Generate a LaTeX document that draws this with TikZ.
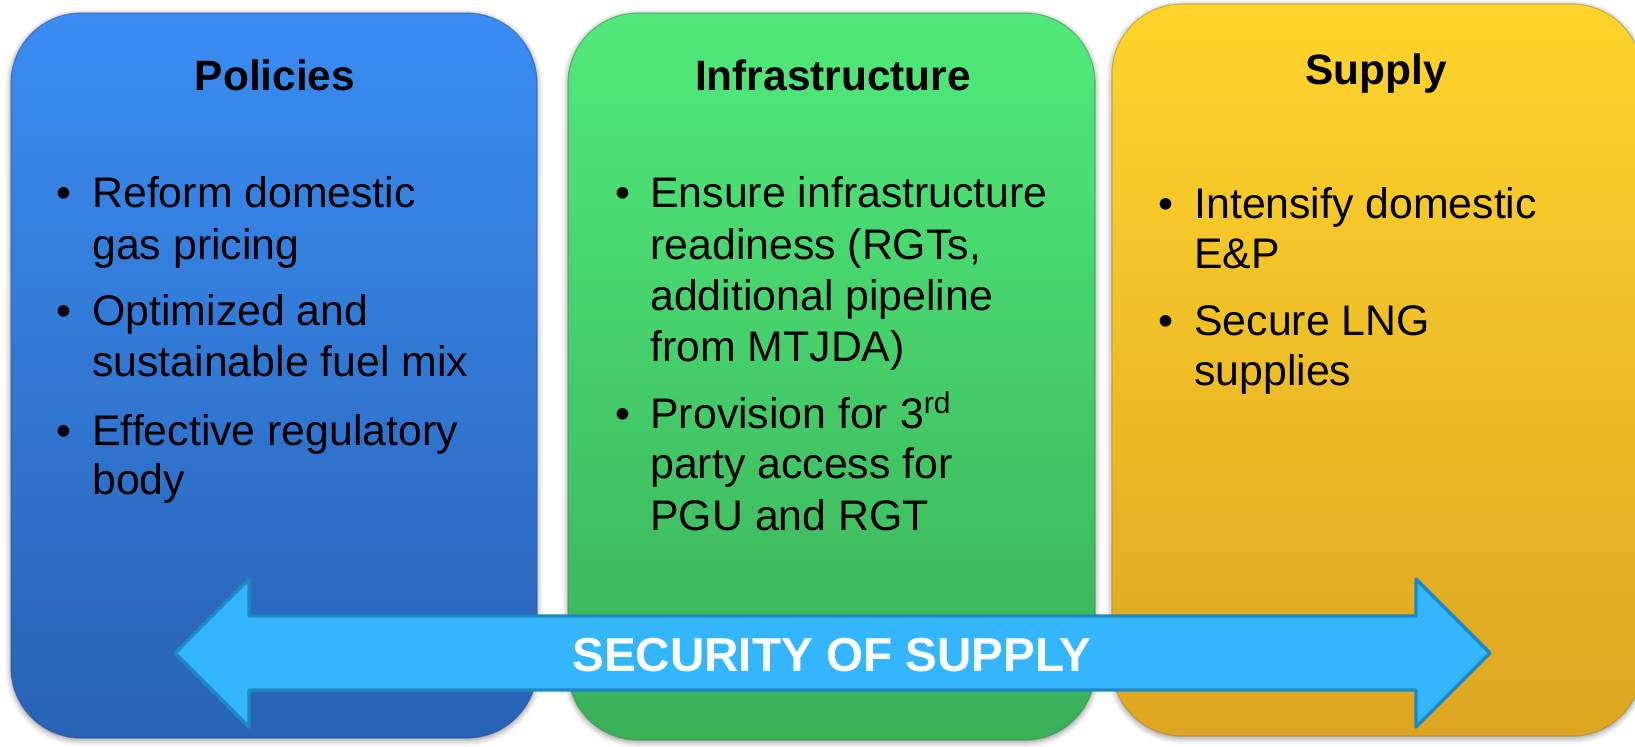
\documentclass[tikz,border=0pt]{standalone}
\usepackage{fontspec}
\setmainfont{Liberation Sans}
\usetikzlibrary{shadows.blur}
\definecolor{bluetop}{HTML}{3A8DF2}
\definecolor{bluebot}{HTML}{2862B5}
\definecolor{greentop}{HTML}{50EA7A}
\definecolor{greenbot}{HTML}{3AB058}
\definecolor{yeltop}{HTML}{FFD52C}
\definecolor{yelbot}{HTML}{DDA521}
\definecolor{arrowfill}{HTML}{33B6FE}
\definecolor{arrowline}{HTML}{1E88C0}
\tikzset{
  panel/.style={rounded corners=35pt, blur shadow={shadow xshift=0pt, shadow yshift=-1pt, shadow blur radius=3pt, shadow opacity=45}},
  bodytext/.style={anchor=base west, inner sep=0pt, font=\fontsize{21.4}{25}\selectfont},
  bul/.style={anchor=base, inner sep=0pt, font=\fontsize{21.4}{25}\selectfont},
  ttl/.style={anchor=base, inner sep=0pt, font=\bfseries\fontsize{21.2}{25}\selectfont},
  banner/.style={anchor=base, inner sep=0pt, text=white, font=\bfseries\fontsize{23.8}{28}\selectfont},
}
\begin{document}
\begin{tikzpicture}[x=0.5pt,y=-0.5pt]
\useasboundingbox (0,0) rectangle (1635,746);
% panels
\shade[panel, top color=bluetop, bottom color=bluebot] (11,13) rectangle (537,738);
\draw[rounded corners=35pt, bluebot!80!black, line width=0.6pt, opacity=0.5] (11,13) rectangle (537,738);
\shade[panel, top color=greentop, bottom color=greenbot] (568,13) rectangle (1095,740);
\draw[rounded corners=35pt, greenbot!80!black, line width=0.6pt, opacity=0.5] (568,13) rectangle (1095,740);
\shade[panel, top color=yeltop, bottom color=yelbot] (1112,4) rectangle (1642,736);
\draw[rounded corners=35pt, yelbot!80!black, line width=0.6pt, opacity=0.5] (1112,4) rectangle (1642,736);
% titles
\node[ttl] (tpol) at (275,90) {Policies};
\node[ttl] (tinf) at (833,90) {Infrastructure};
\node[ttl] (tsup) at (1376,84) {Supply};
% policies bullets
\node[bul] (bp1) at (64,207.7) {•};
\node[bodytext] (p1a) at (92,207.7) {Reform domestic};
\node[bodytext] (p1b) at (92,259) {gas pricing};
\node[bul] (bp2) at (64,325.7) {•};
\node[bodytext] (p2a) at (92,325.7) {Optimized and};
\node[bodytext] (p2b) at (92,376.7) {sustainable fuel mix};
\node[bul] (bp3) at (64,445) {•};
\node[bodytext] (p3a) at (92,445) {Effective regulatory};
\node[bodytext] (p3b) at (92,494) {body};
% infrastructure bullets
\node[bul] (bi1) at (623,207.7) {•};
\node[bodytext] (i1a) at (650,207.7) {Ensure infrastructure};
\node[bodytext] (i1b) at (650,259) {readiness (RGTs,};
\node[bodytext] (i1c) at (650,310) {additional pipeline};
\node[bodytext] (i1d) at (650,361.7) {from MTJDA)};
\node[bul] (bi2) at (623,428.3) {•};
\node[bodytext] (i2a) at (650,428.3) {Provision for 3\textsuperscript{rd}};
\node[bodytext] (i2b) at (650,478.3) {party access for};
\node[bodytext] (i2c) at (650,530) {PGU and RGT};
% supply bullets
\node[bul] (bs1) at (1166,218) {•};
\node[bodytext] (s1a) at (1194,218) {Intensify domestic};
\node[bodytext] (s1b) at (1194,268) {E\&P};
\node[bul] (bs2) at (1166,335) {•};
\node[bodytext] (s2a) at (1194,335) {Secure LNG};
\node[bodytext] (s2b) at (1194,385) {supplies};
% double arrow
\filldraw[fill=arrowfill, draw=arrowline, line width=1.7pt, line join=round]
  (175,653) -- (249,579) -- (249,616) -- (1416,616) -- (1416,579) -- (1490,653)
  -- (1416,727) -- (1416,690) -- (249,690) -- (249,727) -- cycle;
\node[banner] (sec) at (832,671) {SECURITY OF SUPPLY};
\end{tikzpicture}
\end{document}
